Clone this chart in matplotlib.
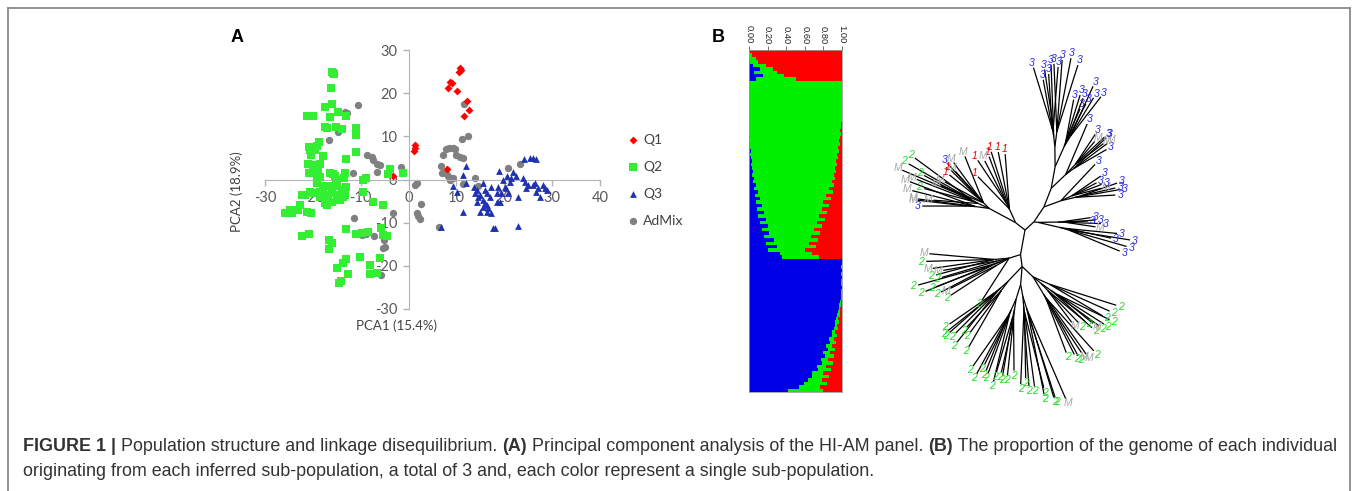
import numpy as np
import matplotlib.pyplot as plt
from matplotlib.lines import Line2D

plt.rcParams['axes.unicode_minus'] = False

# ---------------- data ----------------
# panel A: PCA scores
q1_x = [10.7, 10.9, 10.6, 8.6, 9.0, 8.3, 10.2, 12.3, 12.6, 11.6, 1.3, 1.3, 1.2, -3.2, 8.1]
q1_y = [25.8, 25.4, 25.0, 22.7, 22.4, 21.1, 20.5, 18.2, 16.1, 14.6, 8.0, 7.2, 6.7, 0.8, 2.4]

q2_x = [-16.1, -15.7, -15.5, -16.3, -21.3, -19.9, -17.5, -15.9, -14.7, -16.4, -13.1, -17.5, -17.1,
        -15.2, -14.0, -10.9, -11.0, -18.7, -19.2, -20.8, -20.5, -19.6, -20.3, -17.8, -10.9, -13.1,
        -21.0, -19.9, -18.5, -20.8, -19.6, -18.9, -19.2, -19.2, -16.4, -15.7, -15.4, -15.0, -16.3,
        -14.9, -13.3, -13.5, -13.1, -14.0, -22.3, -21.6, -20.6, -19.7, -18.5, -17.8, -17.1, -16.1,
        -15.0, -18.5, -16.8, -17.5, -17.1, -16.1, -15.0, -14.3, -13.6, -13.3, -22.7, -23.1, -21.2,
        -24.7, -24.4, -25.8, -20.3, -9.5, -9.5, -8.8, -7.4, -5.3, -13.0, -22.3, -20.8, -16.6, -16.1,
        -16.6, -10.2, -13.1, -13.6, -14.9, -14.2, -14.5, -12.6, -8.1, -8.1, -6.7, -6.0, -10.9, -9.8,
        -8.4, -5.7, -5.3, -4.6, -3.9, -4.4, -1.2, -18.5, -17.8]
q2_y = [25.0, 24.7, 24.4, 21.1, 14.7, 14.7, 16.9, 17.5, 15.7, 14.4, 14.7, 12.2, 11.9,
        12.2, 11.6, 11.9, 10.3, 8.8, 7.8, 7.5, 6.8, 6.8, 5.7, 5.4, 6.3, 4.7,
        3.7, 3.4, 3.5, 1.6, 1.8, 2.2, 0.8, -0.9, 1.4, 1.3, 0.9, -0.1, -1.5,
        -1.5, 1.4, 0.3, -1.7, -2.4, -3.6, -3.7, -3.0, -3.2, -2.8, -3.2, -3.6, -3.2,
        -3.6, -4.0, -4.7, -5.5, -5.9, -5.1, -4.7, -4.7, -4.0, -3.6, -5.9, -7.1, -7.5,
        -7.1, -7.7, -7.7, -7.7, -2.8, 0.0, 0.3, -5.1, -5.9, -11.5, -13.2, -12.6, -14.0, -14.8,
        -16.2, -18.0, -18.5, -19.3, -20.6, -23.4, -24.0, -21.9, -19.8, -21.9, -21.6, -18.3, -12.6, -12.3,
        -12.1, -11.3, -12.9, -13.1, 2.4, 1.3, 1.6, 0.6, -1.5]

q3_x = [12.1, 11.4, 9.2, 10.2, 12.1, 11.3, 6.8, 13.6, 14.2, 15.6, 15.9, 13.9, 14.9, 16.3, 14.2,
        15.6, 17.0, 15.6, 14.9, 16.3, 17.3, 17.7, 18.0, 16.3, 18.4, 19.1, 18.9, 19.8, 20.5, 21.2,
        21.9, 22.4, 21.5, 20.1, 20.8, 22.9, 22.8, 24.0, 24.3, 24.1, 25.3, 26.0, 26.6, 25.0, 26.0,
        26.4, 27.1, 28.0, 28.5, 29.0, 27.4, 26.6, 24.6, 18.7, 19.4, 18.4, 17.3, 14.5, 15.9, 16.6, 20.3]
q3_y = [3.2, 1.0, -1.4, -2.8, -0.9, -7.6, -11.1, -1.7, -2.4, -0.9, -2.4, -3.1, -3.6, -3.2, -5.1,
        -4.8, -4.0, -6.3, -7.5, -7.5, -7.8, -11.3, -11.3, -5.9, -3.2, -5.1, 2.0, -0.1, 0.8, -0.5,
        1.8, 0.7, 0.3, -1.7, -3.2, -4.0, -10.7, 0.3, -0.5, 4.7, 4.9, 4.9, 4.7, -1.3, -1.3,
        -0.9, -2.0, -1.3, -2.0, -2.4, -4.0, -2.8, -2.0, -1.7, -3.2, -5.1, -1.7, -4.0, -5.5, -6.7, -2.0]

adm_x = [-15.7, -13.3, -12.8, -10.5, -14.7, -16.6, -8.7, -7.7, -7.4, -6.7, -6.0, -11.7, -6.7, -15.4,
         -1.5, -11.4, -9.8, -8.8, -7.2, -5.1, -5.3, -4.9, -5.8, -3.2, 1.7, 1.3, 1.7, 2.0, 2.4, 2.7,
         6.4, 7.1, 7.9, 8.5, 9.3, 9.7, 10.0, 10.7, 11.3, 6.7, 6.9, 7.9, 8.3, 8.6, 9.3, 11.4, 13.9,
         14.6, 11.1, 12.5, 11.5, 20.7, 23.2]
adm_y = [24.4, 15.7, 15.5, 17.3, 11.1, 9.2, 5.7, 5.3, 4.5, 3.6, 3.4, 1.6, 1.8, -0.5,
         3.0, -8.9, -12.9, -12.6, -13.1, -14.0, -15.9, -15.7, -22.1, -7.8, -0.9, -1.3, -7.8, -8.5, -9.2, -5.7,
         -10.9, 5.7, 7.0, 7.2, 7.4, 7.0, 5.7, 5.3, 4.9, 3.1, 1.6, 1.6, 0.7, -0.1, 0.3, -1.0, 0.3,
         -1.5, 9.4, 10.1, 17.4, 2.6, 3.6]

# panel B: ancestry proportions per individual, top to bottom (Q1 red, Q3 blue)
struct_q1 = [0.99, 0.97, 0.93, 0.90, 0.82, 0.74, 0.70, 0.62, 0.50,
             0, 0, 0, 0, 0, 0, 0, 0, 0, 0, 0, 0, 0.01, 0.01, 0.02, 0.01, 0.02, 0.03, 0.02, 0.04,
             0.03, 0.05, 0.04, 0.06, 0.05, 0.08, 0.06, 0.09, 0.07, 0.11, 0.09, 0.14, 0.10, 0.17,
             0.12, 0.20, 0.14, 0.22, 0.16, 0.25, 0.18, 0.27, 0.21, 0.30, 0.24, 0.33, 0.26, 0.36,
             0.28, 0.40, 0.32, 0.25,
             0, 0, 0, 0, 0, 0, 0, 0, 0, 0, 0, 0, 0.01, 0.01, 0.02, 0.02, 0.02, 0.04, 0.03, 0.05,
             0.04, 0.07, 0.05, 0.09, 0.06, 0.11, 0.07, 0.13, 0.09, 0.15, 0.10, 0.17, 0.12, 0.20,
             0.14, 0.22, 0.16, 0.24, 0.20]
struct_q3 = [0, 0, 0, 0.01, 0.04, 0.12, 0.05, 0.15, 0.08,
             0, 0, 0, 0, 0, 0, 0, 0, 0, 0, 0, 0, 0, 0, 0, 0, 0.01, 0, 0.01, 0.01, 0.02, 0.01,
             0.02, 0.03, 0.02, 0.03, 0.04, 0.03, 0.05, 0.04, 0.07, 0.05, 0.10, 0.06, 0.12, 0.08,
             0.14, 0.09, 0.16, 0.10, 0.18, 0.12, 0.20, 0.14, 0.22, 0.16, 0.27, 0.18, 0.30, 0.20,
             0.33, 0.35,
             1.0, 1.0, 0.99, 1.0, 0.99, 1.0, 0.99, 0.99, 1.0, 0.99, 0.99, 0.99, 0.98, 0.97, 0.97,
             0.96, 0.95, 0.94, 0.93, 0.92, 0.91, 0.89, 0.89, 0.86, 0.87, 0.83, 0.85, 0.80, 0.82,
             0.77, 0.79, 0.73, 0.74, 0.68, 0.68, 0.63, 0.59, 0.54, 0.42]
struct_ticks = [0.0, 0.2, 0.4, 0.6, 0.8, 1.0]

# dendrogram (newick pieces, branch lengths)
tree_q3_a = "(((3:55,3:60,3:62):10,(3:45,3:50):8):22,((M:30,3:35,3:30):8,(3:25,3:28):5):20):4"
tree_q3_b = "((3:40,3:45,(3:35,3:38):6):15,(M:30,3:32,3:28,3:35):12,3:50):18"
tree_q3_c = "((3:38,M:42,3:45):10,(M:35,3:40,M:30,3:36):14,3:55):20"
tree_q3_d = "((3:50,3:45,3:55):12,(3:40,3:44):8,(3:35,3:48,3:42):6):22"
tree_q3_e = "((3:70,3:75,3:72,3:68):15,((3:60,3:62,3:58):10,(3:55,3:50,3:64):8):10):20"
tree_ul_red = "(1:55,1:58,1:60,(1:50,M:48,1:52):6,1:45):15"
tree_ul_top = "(M:50,(M:45,3:48):5,M:42,(1:40,1:38):6,M:44,M:46):8"
tree_ul_mid = "((2:70,2:72,M:75):8,(2:55,M:60,2:50):6,M:45):12"
tree_ul_low = "(M:70,M:65,M:58,(M:50,3:45):8):14"
tree_ll = "((M:65,2:68,M:62,2:60):15,(M:55,2:58):12,((2:75,2:70):10,(2:60,2:58):8):10,(M:52,2:55):14,2:50):12"
tree_dl = "(((2:55,2:60):8,(2:62,2:58,2:64):6):10,(2:50,2:52,2:65):12):20"
tree_d = ("((((2:60,2:65,2:58):8,(2:55,2:62,2:68):6):12,((2:58,2:60):8,(2:55,2:57,2:52):10):10):15,"
          "(((2:70,2:72):8,(2:66,2:75,2:78):6):10,((2:82,2:88):6,(2:90,M:95):4):12):12):18")
tree_dr = ("(((2:55,2:60,M:62):8,(2:65,M:68,2:70):6):20,((M:40,2:45,2:48):10,"
           "((2:50,2:54):6,(M:46,2:55,2:58):8):12):10,(2:62,2:66,2:70):18):15")

tree_q3 = ("(" + tree_q3_a + ",(" + tree_q3_b + ",(" + tree_q3_c + ",(" + tree_q3_d + ","
           + tree_q3_e + "):22):20):18):12")
tree_ul = "(" + tree_ul_red + ",(" + tree_ul_top + "," + tree_ul_mid + "," + tree_ul_low + "):30):12"
tree_all = ("(" + tree_q3 + "," + tree_ul + ",(" + tree_ll + ",(" + tree_dl + "," + tree_d + ","
            + tree_dr + "):12):25)")

label_colors = {'1': '#e00000', '2': '#22dd22', '3': '#2a2ae0', 'M': '#a8a8a8'}

# ---------------- figure ----------------
W, H = 1357, 491
fig = plt.figure(figsize=(W / 100, H / 100), dpi=100)


def fx(px):
    return px / W


def fy(py):
    return 1 - py / H


# outer frame (open at the bottom)
frame = dict(color='#8a8a8a', lw=1.3)
fig.add_artist(Line2D([fx(8), fx(8)], [fy(8), 0], **frame))
fig.add_artist(Line2D([fx(8), fx(1350)], [fy(8), fy(8)], **frame))
fig.add_artist(Line2D([fx(1350), fx(1350)], [fy(8), 0], **frame))

# ---- panel A ----
font_a = 'Lato'
axA = fig.add_axes([fx(265), fy(309), fx(600) - fx(265), fy(50) - fy(309)])
axA.scatter(adm_x, adm_y, s=28, c='#808080', marker='o', linewidths=0, label='AdMix', zorder=2)
axA.scatter(q1_x, q1_y, s=16, c='#ff0000', marker='D', linewidths=0, label='Q1', zorder=3)
axA.scatter(q2_x, q2_y, s=26, c='#33ee33', marker='s', linewidths=0, label='Q2', zorder=3)
axA.scatter(q3_x, q3_y, s=24, c='#1f33b0', marker='^', linewidths=0, label='Q3', zorder=3)
axA.set_xlim(-30, 40)
axA.set_ylim(-30, 30)
axA.set_xticks(range(-30, 41, 10))
axA.set_yticks(range(-30, 31, 10))
for s in ['top', 'right']:
    axA.spines[s].set_visible(False)
axA.spines['left'].set_position(('data', 0))
axA.spines['bottom'].set_position(('data', 0))
for s in ['left', 'bottom']:
    axA.spines[s].set_color('#b4b4b4')
axA.tick_params(colors='#b4b4b4', labelcolor='#595959', length=4, width=1, labelsize=10.5, pad=4)
for t in axA.get_xticklabels() + axA.get_yticklabels():
    t.set_family(font_a)
axA.patch.set_alpha(0)
fig.text(fx(397), fy(326), 'PCA1 (15.4%)', ha='center', va='center', fontsize=9.5,
         family=font_a, color='#404040')
fig.text(fx(237), fy(192), 'PCA2 (18.9%)', ha='center', va='center', fontsize=9.5,
         family=font_a, color='#404040', rotation=90)
h, l = axA.get_legend_handles_labels()
order = [1, 2, 3, 0]
fig.legend([h[i] for i in order], [l[i] for i in order], loc='upper left',
           bbox_to_anchor=(fx(630), fy(134)), frameon=False, handlelength=0.5,
           handletextpad=0.45, labelspacing=1.08, borderpad=0, borderaxespad=0,
           prop={'family': font_a, 'size': 10}, labelcolor='#404040')
fig.text(fx(231), fy(37), 'A', fontsize=13, weight='bold', family='Liberation Sans',
         ha='left', va='center')

# ---- panel B ----
axB = fig.add_axes([fx(749), fy(392), fx(842) - fx(749), fy(50) - fy(392)])
n = len(struct_q1)
rows = np.arange(n)
q1 = np.array(struct_q1)
q3 = np.array(struct_q3)
q2 = 1 - q1 - q3
axB.barh(rows, q3, height=1.0, color='#0000e6', linewidth=0)
axB.barh(rows, q2, left=q3, height=1.0, color='#00f000', linewidth=0)
axB.barh(rows, q1, left=q3 + q2, height=1.0, color='#ff0000', linewidth=0)
axB.set_xlim(0, 1)
axB.set_ylim(n - 0.5, -0.5)
axB.set_yticks([])
axB.xaxis.tick_top()
axB.set_xticks(struct_ticks)
axB.set_xticklabels([f'{v:.2f}' for v in struct_ticks], rotation=-90, fontsize=6.7,
                    family='Liberation Sans')
axB.tick_params(axis='x', length=3, width=0.6, pad=1.5, colors='#555555', labelcolor='#222222')
for s in axB.spines.values():
    s.set_color('#9a9a9a')
    s.set_linewidth(0.6)
fig.text(fx(712), fy(37), 'B', fontsize=13, weight='bold', family='Liberation Sans',
         ha='left', va='center')


# ---- dendrogram ----
def parse(s, i=0):
    if s[i] == '(':
        kids = []
        i += 1
        while True:
            kid, i = parse(s, i)
            kids.append(kid)
            if s[i] == ',':
                i += 1
            else:
                i += 1
                break
        node = {'kids': kids, 'name': ''}
    else:
        j = i
        while s[i] not in ':,()':
            i += 1
        node = {'kids': [], 'name': s[j:i]}
    length = 0.0
    if i < len(s) and s[i] == ':':
        i += 1
        j = i
        while i < len(s) and s[i] not in ',()':
            i += 1
        length = float(s[j:i])
    node['len'] = length
    return node, i


def nleaves(node):
    if not node['kids']:
        return 1
    return sum(nleaves(k) for k in node['kids'])


segments = []
tips = []
fan = 2.4  # widen the leaf fans a bit


def layout(node, x, y, a0, a1):
    total = nleaves(node)
    pmid = (a0 + a1) / 2
    a = a0
    for kid in node['kids']:
        w = (a1 - a0) * nleaves(kid) / total
        mid = a + w / 2
        if not kid['kids']:
            mid = pmid + (mid - pmid) * fan
        cx = x + kid['len'] * np.cos(mid)
        cy = y + kid['len'] * np.sin(mid)
        segments.append(((x, cx), (y, cy)))
        if kid['kids']:
            layout(kid, cx, cy, a, a + w)
        else:
            tips.append((cx, cy, mid, kid['name']))
        a += w


root, _ = parse(tree_all)
start = np.deg2rad(-20)
layout(root, 0.0, 0.0, start, start + 2 * np.pi)

axT = fig.add_axes([fx(870), fy(410), fx(1160) - fx(870), fy(55) - fy(410)])
for xs, ys in segments:
    axT.plot(xs, ys, color='black', lw=0.9, solid_capstyle='butt')
for x, y, ang, name in tips:
    axT.text(x + 5 * np.cos(ang), y + 5 * np.sin(ang), name, fontsize=7.5, style='italic',
             family='Liberation Sans', color=label_colors[name], ha='center', va='center')
axT.set_xlim(-155, 135)
axT.set_ylim(-180, 175)
axT.axis('off')

# ---- caption ----
cap = fig.add_axes([0, 0, 1, 1])
cap.axis('off')
cap.set_zorder(-1)
cap_font = dict(fontsize=12.9, family='Liberation Sans', color='#333333', va='baseline')
line1 = [("FIGURE 1 |", 'bold'), (" Population structure and linkage disequilibrium. ", 'normal'),
         ("(A)", 'bold'), (" Principal component analysis of the HI-AM panel. ", 'normal'),
         ("(B)", 'bold'), (" The proportion of the genome of each individual", 'normal')]
x0 = fx(23)
prev = cap.text(x0, fy(451), line1[0][0], weight=line1[0][1], transform=fig.transFigure,
                **cap_font)
fig.canvas.draw()
r = fig.canvas.get_renderer()
for txt, wt in line1[1:]:
    bb = prev.get_window_extent(r)
    prev = cap.text(bb.x1 / fig.bbox.width, fy(451), txt, weight=wt,
                    transform=fig.transFigure, **cap_font)
cap.text(x0, fy(476), "originating from each inferred sub-population, a total of 3 and, "
         "each color represent a single sub-population.", transform=fig.transFigure, **cap_font)

fig.savefig('out.png', dpi=100)
